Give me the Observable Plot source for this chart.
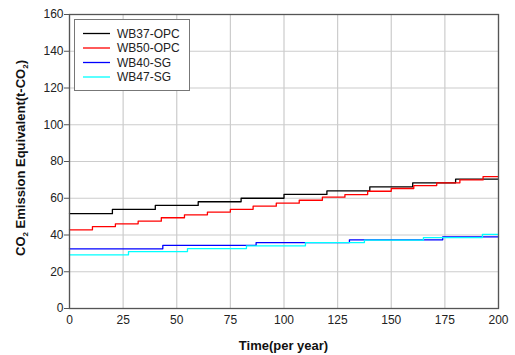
<!DOCTYPE html>
<html>
<head>
<meta charset="utf-8">
<script src="https://cdn.jsdelivr.net/npm/d3@7"></script>
<script src="https://cdn.jsdelivr.net/npm/@observablehq/plot@0.6"></script>
<style>
  html, body { margin: 0; padding: 0; background: #fff; }
  svg { display: block; }
</style>
</head>
<body>
<div id="chart"></div>
<script>
// ---- data ----
const seriesNames  = ["WB37-OPC", "WB50-OPC", "WB40-SG", "WB47-SG"];
const seriesColors = ["#000000", "#ff0000", "#0000ff", "#00ffff"];

const wb37Time  = [0, 20, 40, 60, 80, 100, 120, 140, 160, 180, 200];
const wb37Value = [51.6, 53.9, 56.1, 58.1, 60.0, 62.1, 64.0, 66.2, 68.4, 70.4, 70.4];

const wb50Time  = [0, 10.7, 21.4, 32.0, 42.8, 53.6, 64.3, 75.0, 85.6, 96.4, 107.1, 117.9, 128.4, 139.0, 150.0, 160.5, 171.2, 182.0, 192.8, 200];
const wb50Value = [42.8, 44.6, 46.1, 47.5, 49.4, 51.0, 52.5, 54.0, 55.7, 57.3, 58.9, 60.6, 62.0, 63.8, 65.3, 66.9, 68.4, 70.0, 71.8, 71.8];

const wb40Time  = [0, 43.5, 87.0, 130.5, 174.0, 200];
const wb40Value = [32.5, 34.3, 35.9, 37.4, 39.0, 39.0];

const wb47Time  = [0, 27.5, 55.0, 82.5, 110.0, 137.5, 165.0, 192.5, 200];
const wb47Value = [29.2, 31.0, 32.6, 34.1, 35.9, 37.2, 38.6, 40.3, 40.3];

const xTicks = [0, 25, 50, 75, 100, 125, 150, 175, 200];
const yTicks = [0, 20, 40, 60, 80, 100, 120, 140, 160];

// ---- build table ----
const seriesTimes  = [wb37Time, wb50Time, wb40Time, wb47Time];
const seriesValues = [wb37Value, wb50Value, wb40Value, wb47Value];
const rows = [];
seriesNames.forEach((name, i) => {
  seriesTimes[i].forEach((t, j) => rows.push({series: name, t, v: seriesValues[i][j]}));
});

const FONT = "'Liberation Sans', Arial, Helvetica, sans-serif";

const chart = Plot.plot({
  width: 515,
  height: 355,
  marginLeft: 69,
  marginRight: 17,
  marginTop: 14,
  marginBottom: 47,
  style: {fontFamily: FONT, fontSize: "12px", color: "#222", background: "#fff"},
  x: {domain: [0, 200], label: null},
  y: {domain: [0, 160], label: null},
  color: {domain: seriesNames, range: seriesColors},
  marks: [
    Plot.gridX(xTicks, {stroke: "#cccccc", strokeOpacity: 1, strokeWidth: 1.2}),
    Plot.gridY(yTicks, {stroke: "#cccccc", strokeOpacity: 1, strokeWidth: 1.2}),
    Plot.line(rows, {x: "t", y: "v", z: "series", stroke: "series", curve: "step-after", strokeWidth: 1.3}),
    Plot.frame({stroke: "#555", strokeWidth: 1.3}),
    Plot.axisX(xTicks, {tickSize: 0, tickPadding: 7, label: null, fontSize: 12}),
    Plot.axisY(yTicks, {tickSize: 5, tickPadding: 1, label: null, fontSize: 12, stroke: "#555"})
  ]
});

document.getElementById("chart").appendChild(chart);

const svg = d3.select(chart);

// x title
svg.append("text")
  .attr("x", (69 + 498) / 2)
  .attr("y", 350)
  .attr("text-anchor", "middle")
  .attr("font-family", FONT)
  .attr("font-weight", "bold")
  .attr("font-size", 13)
  .attr("fill", "#111")
  .text("Time(per year)");

// y title with subscripts
const yt = svg.append("text")
  .attr("transform", "translate(25,158) rotate(-90)")
  .attr("text-anchor", "middle")
  .attr("font-family", FONT)
  .attr("font-weight", "bold")
  .attr("font-size", 13)
  .attr("fill", "#111");
yt.append("tspan").text("CO");
yt.append("tspan").attr("font-size", 8).attr("dy", 3).text("2");
yt.append("tspan").attr("dy", -3).text(" Emission Equivalent(t-CO");
yt.append("tspan").attr("font-size", 8).attr("dy", 3).text("2");
yt.append("tspan").attr("dy", -3).text(")");

// legend
const lg = svg.append("g").attr("font-family", FONT).attr("font-size", 12).attr("text-anchor", "start");
lg.append("rect")
  .attr("x", 74.5).attr("y", 19.5).attr("width", 115).attr("height", 71)
  .attr("fill", "#fff").attr("stroke", "#777").attr("stroke-width", 1);
const rowY = [33.5, 48, 62.5, 77];
seriesNames.forEach((name, i) => {
  lg.append("line")
    .attr("x1", 83).attr("x2", 110).attr("y1", rowY[i]).attr("y2", rowY[i])
    .attr("stroke", seriesColors[i]).attr("stroke-width", 1.3);
  lg.append("text")
    .attr("x", 117).attr("y", rowY[i]).attr("dy", "0.35em")
    .attr("text-anchor", "start")
    .attr("fill", "#222")
    .text(name);
});
</script>
</body>
</html>
